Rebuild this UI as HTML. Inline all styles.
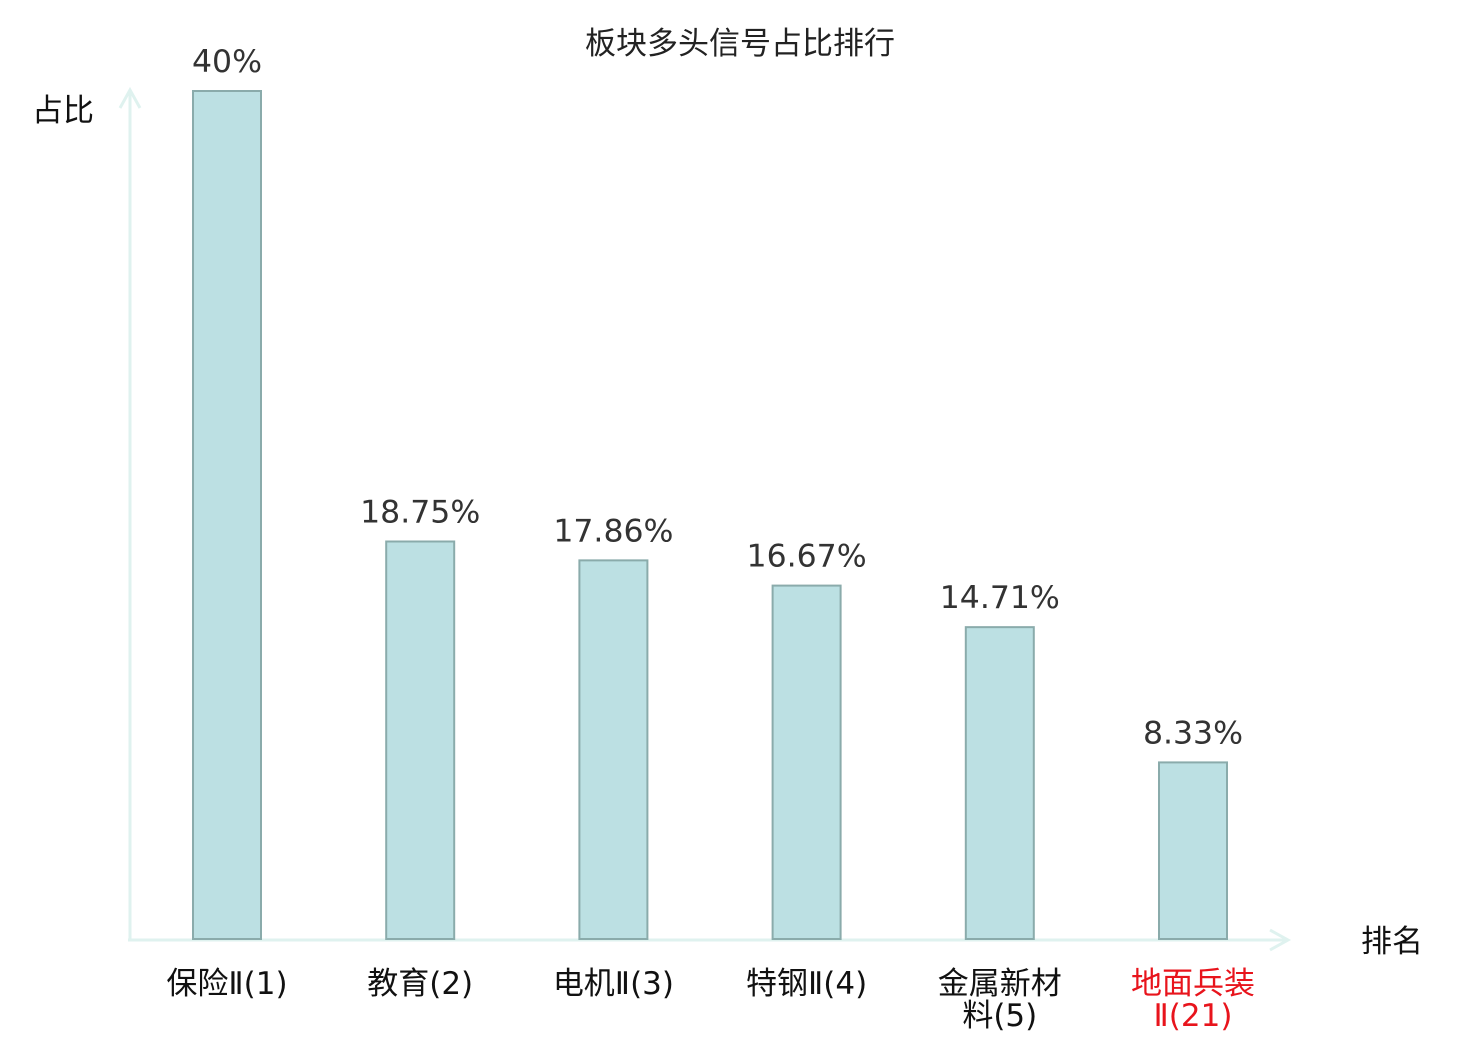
<!DOCTYPE html>
<html><head><meta charset="utf-8"><style>
body{margin:0;background:#fff}
svg text{font-family:"DejaVu Sans","Noto Sans CJK SC",sans-serif}
</style></head><body>
<svg id="c" width="1480" height="1040">
<text x="740" y="54" text-anchor="middle" font-size="31" fill="#222">板块多头信号占比排行</text>
<line x1="130" y1="940" x2="130" y2="92" stroke="#dff2ef" stroke-width="3"/>
<polyline points="120,108 130,90 140,108" fill="none" stroke="#dff2ef" stroke-width="3"/>
<line x1="128" y1="940" x2="1288" y2="940" stroke="#dff2ef" stroke-width="3"/>
<polyline points="1270,930 1288,940 1270,950" fill="none" stroke="#dff2ef" stroke-width="3"/>
<text x="63" y="121" text-anchor="middle" font-size="31" fill="#111">占比</text>
<text x="1392" y="952" text-anchor="middle" font-size="31" fill="#111">排名</text>
<g id="bars"></g>
</svg>
<script>
const categories=[["保险Ⅱ(1)"],["教育(2)"],["电机Ⅱ(3)"],["特钢Ⅱ(4)"],["金属新材","料(5)"],["地面兵装","Ⅱ(21)"]];
const values=[40,18.75,17.86,16.67,14.71,8.33];
const valueLabels=["40%","18.75%","17.86%","16.67%","14.71%","8.33%"];
const highlight=[false,false,false,false,false,true];
const NS="http://www.w3.org/2000/svg";
const g=document.getElementById('bars');
const x=i=>227+i*193.2;
const y=v=>939-v*21.2;
values.forEach((v,i)=>{
 const r=document.createElementNS(NS,'rect');
 
 
 r.setAttribute('x',x(i)-34);r.setAttribute('y',y(v));r.setAttribute('width',68);r.setAttribute('height',939-y(v));
 r.setAttribute('fill','#bce0e3');r.setAttribute('stroke','#8aabab');r.setAttribute('stroke-width','2');
 g.appendChild(r);
 const t=document.createElementNS(NS,'text');
 
 
 t.setAttribute('x',x(i));t.setAttribute('y',y(v)-19);t.setAttribute('text-anchor','middle');
 t.setAttribute('font-size','31.5');t.setAttribute('fill','#333');t.textContent=valueLabels[i];
 g.appendChild(t);
 categories[i].forEach((line,j)=>{
  const c=document.createElementNS(NS,'text');
  
  
  c.setAttribute('x',x(i));c.setAttribute('y',994+j*32);c.setAttribute('text-anchor','middle');
  c.setAttribute('font-size','31');c.setAttribute('fill',highlight[i]?'#e8141c':'#111');c.textContent=line;
  g.appendChild(c);
 });
});
</script>
</body></html>
